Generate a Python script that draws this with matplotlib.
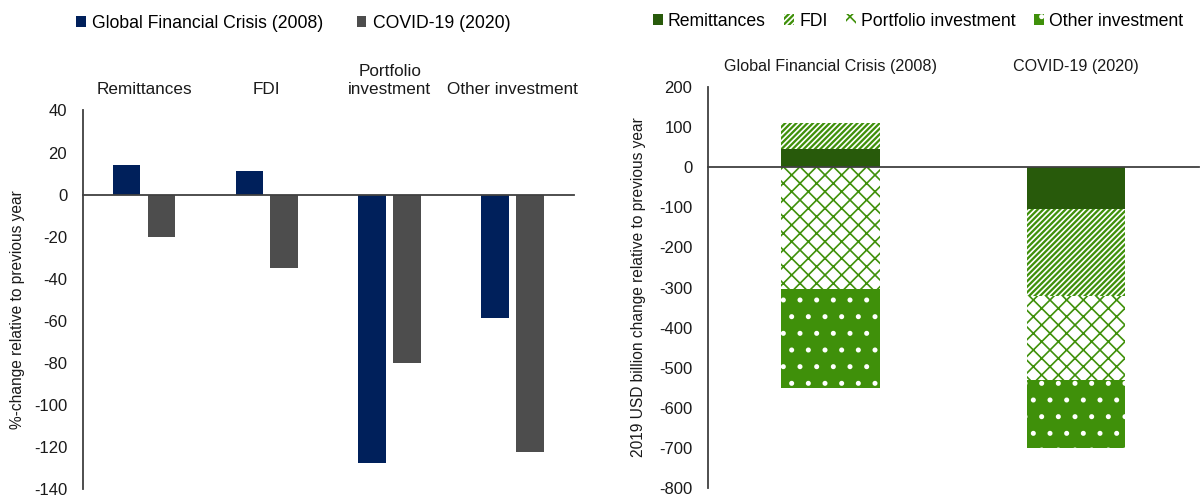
import matplotlib
matplotlib.use("Agg")
import matplotlib.pyplot as plt
import numpy as np

plt.rcParams['font.family'] = ['Liberation Sans', 'DejaVu Sans']
plt.rcParams['hatch.linewidth'] = 1.2

# ---------------- Data ----------------
# Left panel: %-change relative to previous year
categories = ["Remittances", "FDI", "Portfolio\ninvestment", "Other investment"]
gfc_pct = [14.0, 11.3, -127.5, -58.8]
covid_pct = [-20.1, -34.9, -80.2, -122.5]
left_series = ["Global Financial Crisis (2008)", "COVID-19 (2020)"]

# Right panel: 2019 USD billion change relative to previous year
crises = ["Global Financial Crisis (2008)", "COVID-19 (2020)"]
remittances_usd = [45, -104]
fdi_usd = [65, -218]
portfolio_usd = [-304, -210]
other_usd = [-248, -168]
flow_names = ["Remittances", "FDI", "Portfolio investment", "Other investment"]

left_yticks = list(range(-140, 41, 20))
right_yticks = list(range(-800, 201, 100))

# ---------------- Styles ----------------
NAVY = "#00205B"
GREY = "#4D4D4D"
DKGREEN = "#285A0B"
GREEN = "#3F900A"
AXCOL = "#404040"

W, H = 1201, 500
fig = plt.figure(figsize=(W / 100, H / 100), dpi=100)

# ---------------- Left panel ----------------
ax1 = fig.add_axes([82.5 / W, 1 - 489 / H, 491.5 / W, (489 - 110.5) / H])
x = np.arange(len(categories))
bw = 0.224
off = 0.142
b1 = ax1.bar(x - off, gfc_pct, bw, color=NAVY, edgecolor="none", label=left_series[0])
b2 = ax1.bar(x + off, covid_pct, bw, color=GREY, edgecolor="none", label=left_series[1])
ax1.set_xlim(-0.5, len(categories) - 0.5)
ax1.set_ylim(-140, 40)
ax1.set_yticks(left_yticks)
ax1.set_yticklabels([str(v) for v in left_yticks])
ax1.set_xticks(x)
ax1.set_xticklabels(categories)
ax1.xaxis.set_ticks_position('top')
ax1.tick_params(axis='x', length=0, pad=10, labelsize=12.3, labelcolor="#1a1a1a")
ax1.tick_params(axis='y', length=0, pad=11, labelsize=12, labelcolor="#1a1a1a")
for s in ['top', 'right']:
    ax1.spines[s].set_visible(False)
ax1.spines['bottom'].set_position(('data', 0))
ax1.spines['bottom'].set_color(AXCOL)
ax1.spines['bottom'].set_linewidth(1.3)
ax1.spines['left'].set_color(AXCOL)
ax1.spines['left'].set_linewidth(1.3)
ax1.spines['bottom'].set_zorder(3)
ax1.set_ylabel("%-change relative to previous year", fontsize=11.2, color="#1a1a1a")
ax1.yaxis.set_label_coords(-0.118, 0.473)

fig.legend([b1, b2], left_series, loc='center left',
           bbox_to_anchor=(76 / W, 1 - 23 / H), ncol=2, frameon=False,
           borderpad=0, borderaxespad=0, handlelength=0.55, handleheight=0.55,
           handletextpad=0.35, columnspacing=1.9, fontsize=12.7)

# ---------------- Right panel ----------------
ax2 = fig.add_axes([707.5 / W, 1 - 487.5 / H, 491.5 / W, 400 / H])
xc = np.arange(len(crises))
bw2 = 0.4
components = [remittances_usd, fdi_usd, portfolio_usd, other_usd]
styles = [
    dict(color=DKGREEN, edgecolor="none", hatch=None, linewidth=0),
    dict(facecolor=GREEN, edgecolor="white", hatch="//////", linewidth=0),
    dict(facecolor="white", edgecolor=GREEN, hatch="xx", linewidth=0),
    dict(facecolor=GREEN, edgecolor="white", hatch=".", linewidth=0),
]
pos_bottom = np.zeros(len(crises))
neg_bottom = np.zeros(len(crises))
handles = []
for vals, st, name in zip(components, styles, flow_names):
    vals = np.array(vals, dtype=float)
    bottoms = np.where(vals >= 0, pos_bottom, neg_bottom)
    bars = ax2.bar(xc, vals, bw2, bottom=bottoms, label=name, **st)
    handles.append(bars)
    pos_bottom = pos_bottom + np.where(vals >= 0, vals, 0)
    neg_bottom = neg_bottom + np.where(vals < 0, vals, 0)

ax2.set_xlim(-0.5, len(crises) - 0.5)
ax2.set_ylim(-800, 200)
ax2.set_yticks(right_yticks)
ax2.set_yticklabels([str(v) for v in right_yticks])
ax2.set_xticks(xc)
ax2.set_xticklabels(crises)
ax2.xaxis.set_ticks_position('top')
ax2.tick_params(axis='x', length=0, pad=10, labelsize=11.6, labelcolor="#1a1a1a")
ax2.tick_params(axis='y', length=0, pad=11, labelsize=12, labelcolor="#1a1a1a")
for s in ['top', 'right']:
    ax2.spines[s].set_visible(False)
ax2.spines['bottom'].set_position(('data', 0))
ax2.spines['bottom'].set_color(AXCOL)
ax2.spines['bottom'].set_linewidth(1.3)
ax2.spines['bottom'].set_zorder(3)
ax2.spines['left'].set_color(AXCOL)
ax2.spines['left'].set_linewidth(1.3)
ax2.set_ylabel("2019 USD billion change relative to previous year", fontsize=11.2, color="#1a1a1a")
ax2.yaxis.set_label_coords(-0.125, 0.5)

fig.legend(handles, flow_names, loc='center left',
           bbox_to_anchor=(653 / W, 1 - 21 / H), ncol=4, frameon=False,
           borderpad=0, borderaxespad=0, handlelength=0.55, handleheight=0.55,
           handletextpad=0.3, columnspacing=1.05, fontsize=12.7)

fig.savefig("out.png", dpi=100)
